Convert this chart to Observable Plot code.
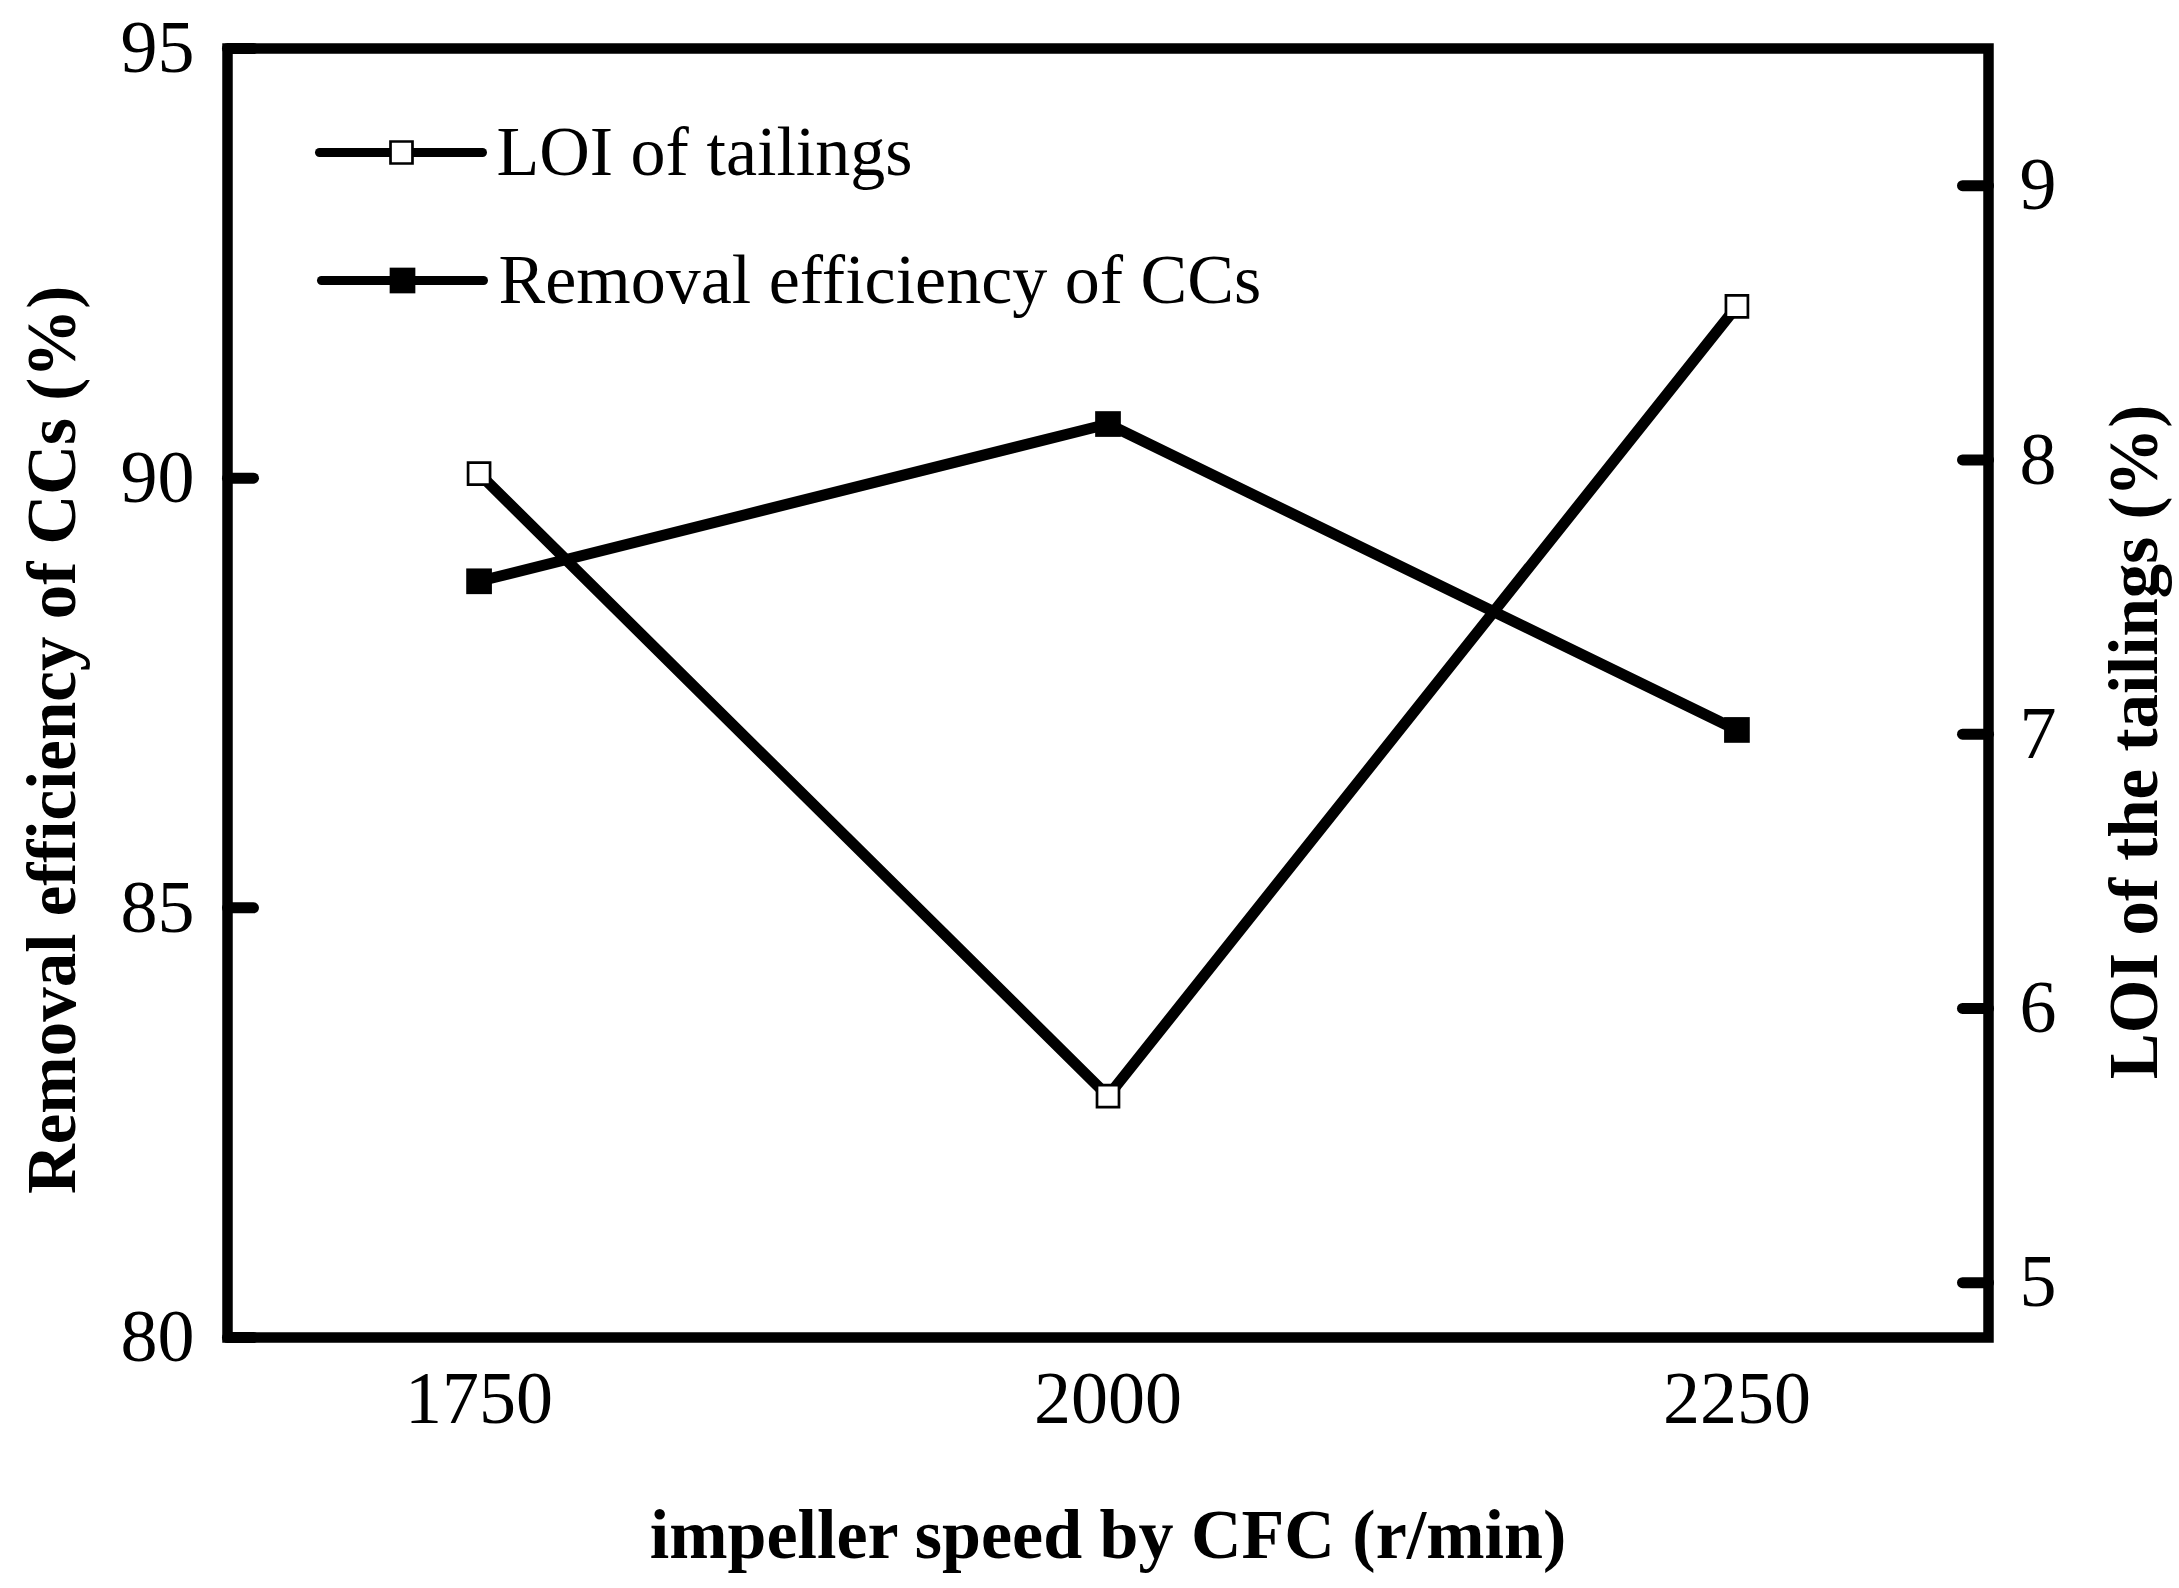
<!DOCTYPE html>
<html>
<head>
<meta charset="utf-8">
<script src="https://cdn.jsdelivr.net/npm/d3@7"></script>
<script src="https://cdn.jsdelivr.net/npm/@observablehq/plot@0.6"></script>
<style>
  html, body { margin: 0; padding: 0; background: #fff; overflow: hidden; }
  #chart svg { display: block; }
</style>
</head>
<body>
<div id="chart"></div>
<script>
// ---- data ----
const speeds = [1750, 2000, 2250];
const removalEfficiency = [88.8, 90.63, 87.07];   // left axis (%)
const loiTailings = [7.95, 5.68, 8.56];           // right axis (%)
const xTicks = [1750, 2000, 2250];
const leftTicks = [80, 85, 90, 95];
const rightTicks = [5, 6, 7, 8, 9];
const xDomain = [1650, 2350];
const leftDomain = [80, 95];
const rightDomain = [4.8, 9.5];
const seriesNames = ["LOI of tailings", "Removal efficiency of CCs"];
const xTitle = "impeller speed by CFC (r/min)";
const leftTitle = "Removal efficiency of CCs (%)";
const rightTitle = "LOI of the tailings (%)";

// map right-axis values onto the left scale
const toLeft = v => leftDomain[0] + (v - rightDomain[0]) * (leftDomain[1] - leftDomain[0]) / (rightDomain[1] - rightDomain[0]);

const removalData = speeds.map((s, i) => ({speed: s, value: removalEfficiency[i]}));
const loiData = speeds.map((s, i) => ({speed: s, value: toLeft(loiTailings[i])}));
const rightTickData = rightTicks.map(t => ({t, y: toLeft(t)}));

const serif = "'Liberation Serif', 'Times New Roman', Times, serif";
const tickShape = {draw(context, l) { context.moveTo(0, 0); context.lineTo(0, -l); }};

const chart = Plot.plot({
  width: 2179,
  height: 1588,
  marginLeft: 227,
  marginRight: 191,
  marginTop: 48,
  marginBottom: 251,
  style: {fontFamily: serif, fontSize: "74px", background: "white", color: "black"},
  x: {type: "linear", domain: xDomain},
  y: {type: "linear", domain: leftDomain},
  marks: [
    // axes
    Plot.axisX(xTicks, {tickSize: 0, tickPadding: 33, fontSize: 74, label: null, tickFormat: d => String(d)}),
    Plot.axisY(leftTicks, {tickSize: 0, tickPadding: 33, fontSize: 74, label: null, tickFormat: d => String(d)}),
    // inward ticks, left
    Plot.vector(leftTicks, {y: d => d, frameAnchor: "left", rotate: 90, length: 26, anchor: "start",
      shape: tickShape, stroke: "black", strokeWidth: 11, strokeLinecap: "round"}),
    // right axis (secondary)
    Plot.vector(rightTickData, {y: "y", frameAnchor: "right", rotate: -90, length: 26, anchor: "start",
      shape: tickShape, stroke: "black", strokeWidth: 11, strokeLinecap: "round"}),
    Plot.text(rightTickData, {y: "y", text: d => String(d.t), frameAnchor: "right", dx: 31,
      textAnchor: "start", lineAnchor: "middle", fontSize: 74}),
    // axis titles
    Plot.text([xTitle], {text: d => d, frameAnchor: "bottom", dy: 220, lineAnchor: "bottom",
      textAnchor: "middle", fontWeight: "bold", fontSize: 70}),
    Plot.text([leftTitle], {text: d => d, frameAnchor: "left", dx: -175, dy: 47, rotate: -90,
      textAnchor: "middle", lineAnchor: "middle", fontWeight: "bold", fontSize: 69}),
    Plot.text([rightTitle], {text: d => d, frameAnchor: "right", dx: 146, dy: 49, rotate: -90,
      textAnchor: "middle", lineAnchor: "middle", fontWeight: "bold", fontSize: 69}),
    // data lines
    Plot.line(loiData, {x: "speed", y: "value", stroke: "black", strokeWidth: 11}),
    Plot.line(removalData, {x: "speed", y: "value", stroke: "black", strokeWidth: 11}),
    Plot.dot(loiData, {x: "speed", y: "value", symbol: "square", r: 12.4, fill: "white", stroke: "black", strokeWidth: 2.7}),
    Plot.dot(removalData, {x: "speed", y: "value", symbol: "square", r: 14.5, fill: "black", stroke: "none"}),
    // legend
    Plot.vector([seriesNames[0]], {frameAnchor: "top-left", dx: 92, dy: 104, rotate: 90, length: 163, anchor: "start",
      shape: tickShape, stroke: "black", strokeWidth: 9, strokeLinecap: "round"}),
    Plot.dot([seriesNames[0]], {frameAnchor: "top-left", dx: 174, dy: 104, symbol: "square", r: 12.4,
      fill: "white", stroke: "black", strokeWidth: 2.7}),
    Plot.text([seriesNames[0]], {text: d => d, frameAnchor: "top-left", dx: 269, dy: 104,
      textAnchor: "start", lineAnchor: "middle", fontSize: 70}),
    Plot.vector([seriesNames[1]], {frameAnchor: "top-left", dx: 94, dy: 232, rotate: 90, length: 162, anchor: "start",
      shape: tickShape, stroke: "black", strokeWidth: 9, strokeLinecap: "round"}),
    Plot.dot([seriesNames[1]], {frameAnchor: "top-left", dx: 175, dy: 232, symbol: "square", r: 14.5,
      fill: "black", stroke: "none"}),
    Plot.text([seriesNames[1]], {text: d => d, frameAnchor: "top-left", dx: 271, dy: 232,
      textAnchor: "start", lineAnchor: "middle", fontSize: 70}),
    // frame
    Plot.frame({stroke: "black", strokeWidth: 10.5})
  ]
});
document.getElementById("chart").appendChild(chart);
</script>
</body>
</html>
